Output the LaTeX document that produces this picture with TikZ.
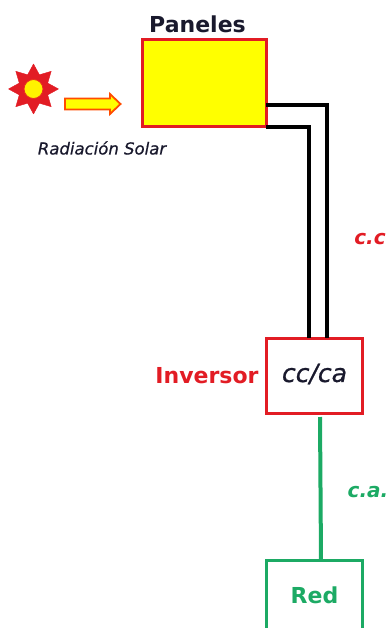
\documentclass[tikz,border=0pt]{standalone}
\usepackage{fontspec}
\setmainfont{DejaVu Sans}
\definecolor{rojo}{RGB}{226,28,36}
\definecolor{verde}{RGB}{28,170,100}
\definecolor{amar}{RGB}{255,255,0}
\definecolor{tinta}{RGB}{25,25,45}
\tikzset{
  x=1pt,y=-1pt,
  boxr/.style={draw=rojo,line width=3pt,rectangle,inner sep=0pt,outer sep=0pt},
  boxg/.style={draw=verde,line width=3pt,rectangle,inner sep=0pt,outer sep=0pt},
  wire/.style={draw=black,line width=3.2pt},
  acwire/.style={draw=verde,line width=4pt},
  lbl/.style={inner sep=0pt,outer sep=0pt},
  petal/.style={fill=rojo,draw=rojo,line width=.4pt,line join=round}
}
\begin{document}
\begin{tikzpicture}
\useasboundingbox (0,0) rectangle (389,628);
\clip (0,0) rectangle (389,628);
% panel
\node[boxr,fill=amar,minimum width=124pt,minimum height=87pt] (panel) at (204,83.5) {};
\node[lbl,text=tinta,font=\bfseries\fontsize{22}{22}\selectfont] (ptitle) at (197.5,24) {Paneles};
% sun
\coordinate (sc) at (33.5,89);
\foreach \a in {0,45,...,315}{
  \draw[petal,shift={(sc)},rotate=\a] (8,-5.5) -- (14,-6) -- (25,0) -- (14,6) -- (8,5.5) -- cycle;
}
\node[circle,fill=amar!90!orange,draw=rojo!80!orange,line width=.8pt,minimum size=19pt,inner sep=0pt] (sun) at (sc) {};
\draw[draw=orange!60!red,fill=amar,line width=1.8pt,line join=miter]
  (65,98.5) -- (110,98.5) -- (110,94) -- (120.5,104) -- (110,114) -- (110,109.5) -- (65,109.5) -- cycle;
\node[lbl,text=tinta,font=\itshape\fontsize{16.5}{17}\selectfont\addfontfeature{FakeBold=0.6}] (rlabel) at (102,148) {Radiación Solar};
% inverter
\node[boxr,fill=white,minimum width=96pt,minimum height=75pt] (inv) at (314,375.5) {};
\node[lbl,text=tinta,font=\itshape\fontsize{25}{25}\selectfont\addfontfeature{FakeBold=0.8}] (cc) at (314.5,374) {cc/ca};
\node[lbl,text=rojo,font=\bfseries\fontsize{22}{22}\selectfont] (ilabel) at (207,376) {Inversor};
% grid
\node[boxg,fill=white,minimum width=96pt,minimum height=90pt] (red) at (314,605) {};
\node[lbl,text=verde,font=\bfseries\fontsize{22}{22}\selectfont] (rtxt) at (314.5,595) {Red};
% wires
\coordinate (p1) at (266,105);
\coordinate (i1) at (327,338);
\coordinate (p2) at (266,127);
\coordinate (i2) at (309,338);
\coordinate (a1) at (320,417);
\draw[wire] (p1) -| (i1);
\draw[wire] (p2) -| (i2);
\draw[acwire] (a1) -- (321,560);
\node[lbl,text=rojo,font=\bfseries\itshape\fontsize{20}{20}\selectfont] (cc2) at (370,239) {c.c};
\node[lbl,text=verde,font=\bfseries\itshape\fontsize{20}{20}\selectfont] (ca2) at (368,492) {c.a.};
\end{tikzpicture}
\end{document}
